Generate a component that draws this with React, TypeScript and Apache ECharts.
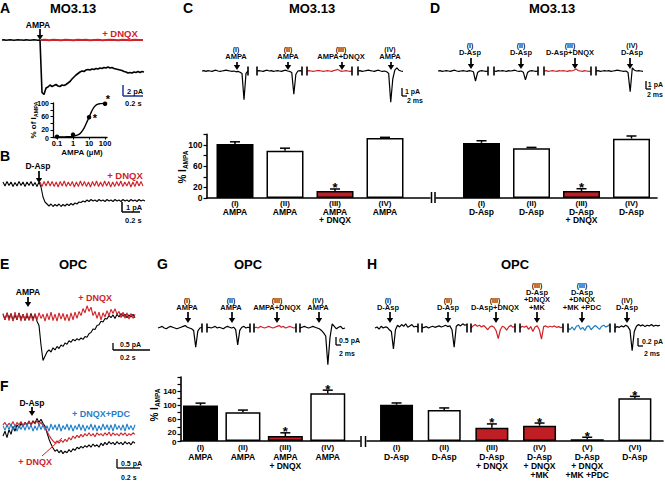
import React, { useEffect, useRef } from 'react';
import * as echarts from 'echarts';

// ================= DATA =================
// Panel A inset: dose-response (AMPA, µM -> % of I_AMPA)
const doseConcUM = [0.1, 1, 10, 100];
const doseRespPct = [1, 7, 58, 98];
const fitConcUM = [0.1, 0.3, 1, 2, 3, 5, 7, 10, 14, 20, 30, 50, 100];
const fitRespPct = [0, 0.5, 2, 6, 12, 27, 42, 58, 74, 87, 95, 98, 99];
const doseTickValues = [-1, 0, 1, 2];
const doseTickLabels = ['0.1', '1', '10', '100'];

// Panel A traces (pA)
const traceA_AMPA = [0, 0.05, -0.05, 0, 0.05, 0, -0.05, 0, 0.05, 0, 0, -0.05, 0.05, 0, -0.05, 0, 0.05, 0, -0.05, 0,
  -10.5, -10.9, -9.6, -9.4, -9.0, -9.3, -9.1, -8.9, -9.2, -9.3, -9.0, -9.1, -8.9, -8.6, -8.3, -7.8, -7.4, -7.0, -6.7, -6.4,
  -6.2, -6.3, -6.0, -5.9, -6.0, -5.8, -5.9, -5.7, -5.8, -5.6, -5.7, -5.5, -5.6, -5.4, -5.6, -5.5, -5.7, -5.8, -5.9, -6.0,
  -6.1, -6.3, -6.4, -6.6, -6.5, -6.6, -6.4, -6.5, -6.3, -6.5, -6.3, -6.4];
const traceA_DNQX = [0, 0.05, -0.05, 0.05, 0, -0.05, 0.05, 0, -0.05, 0.05, 0, 0.05, -0.05, 0, 0.05, -0.05, 0, 0.05, 0, -0.05, 0.05, 0, -0.05, 0.05, 0, 0];

// Panel B traces (pA)
const traceB_DAsp = [0.2, -0.2, 0.25, -0.15, 0.2, -0.25, 0.15, -0.2, 0.25, -0.15,
  0.2, -0.25, 0.2, -0.15, 0.25, -0.2, 0.15, -0.25, 0.2, -0.3,
  -1.3, -1.8, -2.0, -2.2, -2.0, -2.25, -2.05, -2.2, -2.0, -2.25,
  -2.05, -2.2, -2.0, -2.15, -1.95, -2.1, -1.9, -2.0, -1.8, -1.85,
  -1.7, -1.8, -1.6, -1.75, -1.55, -1.7, -1.6, -1.75, -1.55, -1.7,
  -1.6, -1.75, -1.55, -1.7, -1.6, -1.75, -1.55, -1.7, -1.6, -1.75,
  -1.55, -1.7, -1.6, -1.75, -1.55, -1.7, -1.6, -1.75, -1.55, -1.7, -1.6, -1.7];
const traceB_DNQX = [0.2, -0.25, 0.25, -0.2, 0.3, -0.2, 0.25, -0.25, 0.2, -0.3,
  0.25, -0.2, 0.3, -0.25, 0.2, -0.2, 0.25, -0.3, 0.2, -0.25,
  0.3, -0.2, 0.25, -0.25, 0.2, -0.3, 0.25, -0.2, 0.3, -0.25,
  0.2, -0.25, 0.3, -0.2, 0.25, -0.3, 0.2, -0.25, 0.25, -0.2,
  0.3, -0.25, 0.2, -0.2, 0.25, -0.3, 0.2, -0.25, 0.3, -0.2, 0.25, -0.2];

// Panel E traces (pA)
const traceE_AMPA = [0.2, -0.2, 0.3, -0.1, 0.25, -0.25, 0.15, -0.2, 0.3, -0.15,
  0.2, -0.25, 0.1, -0.2, 0.25, -0.15, 0.2, -0.3, -0.6, -2.0,
  -3.1, -2.8, -2.5, -2.35, -2.5, -2.2, -2.35, -2.1, -2.25, -2.0,
  -2.1, -1.85, -1.95, -1.7, -1.8, -1.6, -1.7, -1.55, -1.65, -1.5,
  -1.6, -1.4, -1.45, -1.2, -1.1, -0.85, -0.9, -0.6, -0.55, -0.3,
  -0.35, -0.1, -0.15, 0.1, -0.05, 0.15, -0.1, 0.2, 0.0, 0.25,
  0.05, 0.2, -0.05, 0.15, 0.0, 0.2, -0.05];
const traceE_DNQX = [0.25, -0.2, 0.3, -0.25, 0.2, -0.3, 0.35, -0.15, 0.25, -0.3,
  0.2, -0.2, 0.3, -0.25, 0.15, -0.3, 0.25, -0.2, 0.3, -0.1,
  0.2, -0.3, 0.25, -0.2, 0.35, -0.25, 0.2, -0.3, 0.3, -0.15,
  0.25, -0.25, 0.2, -0.3, 0.3, -0.2, 0.35, -0.1, 0.4, 0.1,
  0.6, 0.3, 0.8, 0.4, 0.7, 0.1, 0.4, -0.1, 0.35, -0.2,
  0.3, 0.0, 0.45, 0.1, 0.55, 0.25, 0.6, 0.2, 0.4, -0.05,
  0.35, -0.1, 0.3, -0.15, 0.25, -0.1, 0.2];

// Panel F traces (pA)
const traceF_DAsp = [-0.5, -0.2, -0.6, -0.1, -0.4, 0.1, -0.2, 0.2, 0.0, 0.3,
  0.1, 0.35, 0.15, 0.4, 0.2, 0.45, 0.3, 0.6, 0.35, 0.55,
  0.3, 0.1, -0.3, -0.7, -1.0, -1.25, -1.45, -1.35, -1.55, -1.4,
  -1.6, -1.45, -1.55, -1.35, -1.5, -1.3, -1.4, -1.2, -1.3, -1.15,
  -1.25, -1.1, -1.2, -1.05, -1.2, -1.0, -1.15, -1.05, -1.2, -0.95,
  -1.1, -0.9, -1.05, -0.85, -1.0, -0.9, -1.05, -0.85, -1.0, -0.9,
  -1.05, -0.85, -1.0, -0.9, -1.05, -0.85, -0.95];
const traceF_DNQX = [0.2, 0.35, 0.1, 0.3, 0.15, 0.4, 0.1, 0.35, 0.2, 0.4,
  0.15, 0.35, 0.2, 0.45, 0.15, 0.4, 0.25, 0.45, 0.2, 0.35,
  0.15, 0.05, -0.2, -0.45, -0.65, -0.8, -0.95, -0.8, -0.95, -0.75,
  -0.9, -0.7, -0.85, -0.6, -0.75, -0.5, -0.65, -0.45, -0.6, -0.4,
  -0.55, -0.35, -0.5, -0.3, -0.5, -0.35, -0.55, -0.3, -0.45, -0.35,
  -0.5, -0.3, -0.45, -0.25, -0.5, -0.3, -0.45, -0.35, -0.5, -0.3,
  -0.45, -0.3, -0.5, -0.35, -0.45, -0.3, -0.4];
const traceF_DNQX_PDC = [0.15, -0.15, 0.2, -0.1, 0.25, -0.15, 0.2, -0.2, 0.15, -0.1,
  0.2, -0.15, 0.25, -0.1, 0.2, -0.2, 0.15, -0.15, 0.25, -0.1,
  0.2, -0.15, 0.15, -0.2, 0.25, -0.1, 0.2, -0.15, 0.25, -0.2,
  0.15, -0.1, 0.25, -0.15, 0.2, -0.2, 0.15, -0.1, 0.25, -0.15,
  0.2, -0.2, 0.15, -0.1, 0.25, -0.15, 0.2, -0.2, 0.15, -0.15,
  0.25, -0.1, 0.2, -0.15, 0.2, -0.2, 0.25, -0.1, 0.15, -0.15,
  0.2, -0.2, 0.25, -0.1, 0.15, -0.15, 0.2];

// Panel C trace segments (pA)
const traceC_I = [0, 0.05, -0.05, 0.05, 0, -0.05, 0.05, 0.1, 0, -0.05, 0, 0.05, 0.1, 0.05, 0, -0.05, 0, -0.1, -0.05, -0.15, -0.3, -3.6, -0.3, 0];
const traceC_II = [0, 0.05, 0, -0.05, 0.05, 0.1, 0, 0.05, -0.05, 0, 0.05, 0, -0.05, 0.05, 0.1, 0, -0.05, -0.2, -2.9, -0.4, 0, 0.05, 0];
const traceC_III = [0, 0.05, 0, -0.05, 0, 0.05, 0.05, 0, -0.05, 0, 0.05, 0, -0.05, 0.05, 0.1, 0.2, 0.05, -0.05, 0, 0.05, 0, -0.05, 0];
const traceC_IV = [0, 0.05, -0.05, 0, 0.05, 0.1, 0.05, 0, -0.05, 0.05, 0.1, 0, -0.05, 0, -0.1, -0.3, -3.9, -1.0, 0.1, 0.4, 0.1, 0, -0.05];

// Panel D trace segments (pA)
const traceD_I = [0, 0.05, -0.05, 0, 0.05, 0, -0.05, 0.05, 0.1, 0, -0.05, 0, 0.05, 0, -0.05, 0.05, 0, -0.1, -1.25, -0.2, 0, 0.05, 0, -0.05, 0];
const traceD_II = [0, -0.05, 0.05, 0, 0.05, 0, -0.05, 0.05, 0, 0.05, 0.1, 0, -0.05, 0, -0.15, -1.1, -0.2, 0, 0.05, 0, -0.05, 0];
const traceD_III = [0, 0.05, -0.05, 0, 0.05, 0, -0.05, 0.05, 0, 0.05, 0, -0.05, 0.05, 0, 0.1, 0.25, 0.05, 0, -0.05, 0.05, 0, -0.05, 0];
const traceD_IV = [0, 0.05, -0.05, 0, 0.05, 0, 0.05, -0.05, 0, 0.05, 0.1, 0.05, 0, -0.05, 0, -0.2, -2.6, 0.4, 0.1, 0, 0.05, 0, -0.05];

// Panel G trace segments (pA)
const traceG_I = [0, 0.05, 0.1, 0, -0.05, 0.05, 0.1, 0.05, 0, -0.05, 0, 0.05, 0.1, 0.15, 0.05, 0, -0.05, -0.15, -1.2, -0.2, 0, 0.05];
const traceG_II = [0, 0.05, 0, 0.05, 0.1, 0, 0.05, 0, -0.05, 0.05, 0.1, 0.05, 0, 0.05, -0.1, -1.05, -0.15, 0.05, 0.1, 0, 0.05, 0];
const traceG_III = [0, 0.05, 0, 0.1, 0.05, 0, 0.05, 0.1, 0.05, 0, 0.05, 0.1, 0.15, 0.05, 0.1, 0, 0.05, 0.1, 0.05, 0, 0.05];
const traceG_IV = [0, 0.05, 0.1, 0.05, 0, 0.05, 0.1, 0.05, 0, -0.05, -0.15, -0.3, -0.5, -2.3, -0.6, 0.25, 0.1, -0.05, 0.05, 0.1, -0.05, 0];

// Panel H trace segments (pA)
const traceH_I = [0, 0.03, -0.03, 0.05, 0, 0.03, 0.02, -0.05, -0.1, -0.6, -0.05, 0.08, 0.03, 0.1, 0.05, 0.12, 0.02, 0.06, 0.1, 0.03, 0.05, 0.02];
const traceH_II = [0, 0.02, 0.04, 0, 0.03, 0.05, 0.02, 0.04, 0.06, 0.03, 0.05, 0.08, 0.04, 0.06, -0.05, -0.55, 0.05, 0.1, 0.06, 0.12, 0.08, 0.1];
const traceH_III = [0, 0.06, 0.1, 0.05, 0.08, 0.03, 0.07, 0.02, -0.05, 0.03, 0.06, 0.02, -0.08, -0.3, -0.05, 0.05, 0.02, -0.06, 0.03, 0.08, 0.02, 0.05];
const traceH_IV = [0, 0.05, 0.02, 0.06, -0.04, 0.04, -0.1, 0.03, 0.06, -0.05, -0.32, 0.04, 0.06, 0.02, 0.05, 0.03, 0.06, 0.02, 0.04, 0.01, 0.03];
const traceH_V = [0, -0.05, 0.03, -0.06, 0.05, 0.08, -0.04, 0.02, -0.07, 0.04, 0.06, -0.05, 0.02, 0.07, 0.02, -0.04, 0.05, 0.08, 0.03, 0.06, 0.1];
const traceH_VI = [0, 0.04, 0.02, 0.06, 0.03, 0.08, 0.04, -0.06, -0.65, -0.1, 0.05, 0.1, 0.06, 0.09, 0.04, 0.08, 0.06, 0.1, 0.05, 0.08, 0.06, 0.08];

// Bar charts: % I_AMPA
const barC_labels = [['(I)', 'AMPA'], ['(II)', 'AMPA'], ['(III)', 'AMPA', '+ DNQX'], ['(IV)', 'AMPA']];
const barC_values = [102, 89, 13, 113];
const barC_errors = [4, 5, 4, 1.5];
const barC_sig = [0, 0, 1, 0];

const barD_labels = [['(I)', 'D-Asp'], ['(II)', 'D-Asp'], ['(III)', 'D-Asp', '+ DNQX'], ['(IV)', 'D-Asp']];
const barD_values = [104, 94, 13, 112];
const barD_errors = [4, 1.5, 4.5, 5];
const barD_sig = [0, 0, 1, 0];

const barG_labels = [['(I)', 'AMPA'], ['(II)', 'AMPA'], ['(III)', 'AMPA', '+ DNQX'], ['(IV)', 'AMPA']];
const barG_values = [100, 81, 14, 134];
const barG_errors = [6.5, 6, 9, 9];
const barG_sig = [0, 0, 1, 1];

const barH_labels = [['(I)', 'D-Asp'], ['(II)', 'D-Asp'], ['(III)', 'D-Asp', '+ DNQX'], ['(IV)', 'D-Asp', '+ DNQX', '+MK'], ['(V)', 'D-Asp', '+ DNQX', '+MK +PDC'], ['(VI)', 'D-Asp']];
const barH_values = [102, 87, 37, 43, 5, 120];
const barH_errors = [5, 6, 11, 7.5, 5.5, 5.5];
const barH_sig = [0, 0, 1, 1, 1, 1];

const yTicksC = [0, 20, 60, 100];
const yTicksG = [0, 20, 60, 100, 140];
const yTicksInset = [0, 20, 60, 100];

// ================= STYLE =================
const FONT = "'Liberation Sans', Arial, Helvetica, sans-serif";
const K = '#000000';
const W = '#ffffff';
const RED = '#cf2229';
const RED_BAR = '#bf1e24';
const BLUE = '#1f7fc8';
const SCALE_BLUE = '#28449a';
const SMALL_OPACITY = 0.99; // small glyphs: grayscale anti-aliasing

const fillsC = [K, W, RED_BAR, W];
const fillsG = [K, W, RED_BAR, W];
const fillsH = [K, W, RED_BAR, RED_BAR, W, W];

function line(x1: number, y1: number, x2: number, y2: number, color: string, w: number) {
  return { type: 'line', z: 100, silent: true, shape: { x1, y1, x2, y2 }, style: { stroke: color, lineWidth: w } };
}

function buildOption() {
  const o: any = { animation: false, backgroundColor: '#fff', textStyle: { fontFamily: FONT }, grid: [], xAxis: [], yAxis: [], series: [] };
  const post: any[] = []; // y tick labels drawn through convertToPixel

  const addTrace = (values: number[], color: string, left: number, width: number, top: number, height: number, ymin: number, ymax: number, lw: number) => {
    const gi = o.grid.length;
    o.grid.push({ left, top, width, height, show: false });
    o.xAxis.push({ type: 'value', gridIndex: gi, min: 0, max: values.length - 1, show: false });
    o.yAxis.push({ type: 'value', gridIndex: gi, min: ymin, max: ymax, show: false });
    o.series.push({ type: 'line', xAxisIndex: gi, yAxisIndex: gi, data: values.map((v, i) => [i, v]), showSymbol: false, symbol: 'none', clip: false, silent: true, lineStyle: { color, width: lw }, z: 2 });
  };

  // Panel A
  addTrace(traceA_AMPA, K, 2, 142, 30, 70, -12, 2, 1.6);
  addTrace(traceA_DNQX, RED, 41, 102, 30, 70, -12, 2, 2);
  // Panel B
  addTrace(traceB_DAsp, K, 3, 142, 174, 40, -3, 1, 1.1);
  addTrace(traceB_DNQX, RED, 40, 103, 174, 40, -3, 1, 1.1);
  // Panel E
  addTrace(traceE_AMPA, K, 3, 132, 296, 70, -3.5, 1.5, 1.1);
  addTrace(traceE_DNQX, RED, 3, 132, 296, 70, -3.5, 1.5, 1.1);
  // Panel F
  addTrace(traceF_DAsp, K, 3, 132, 405, 55, -2, 1.4375, 1.1);
  addTrace(traceF_DNQX, RED, 3, 132, 405, 55, -2, 1.4375, 1.1);
  addTrace(traceF_DNQX_PDC, BLUE, 3, 132, 405, 55, -2, 1.4375, 1.1);

  // Segmented traces
  const segPanels = [
    { top: 59, height: 45, ymin: -4.125, ymax: 1.5, base: 71, segs: [
      { d: traceC_I, left: 202, width: 46, c: K }, { d: traceC_II, left: 257, width: 45, c: K },
      { d: traceC_III, left: 307, width: 45, c: RED }, { d: traceC_IV, left: 358, width: 45, c: K }] },
    { top: 59, height: 45, ymin: -4.125, ymax: 1.5, base: 71, segs: [
      { d: traceD_I, left: 438, width: 50, c: K }, { d: traceD_II, left: 494, width: 44, c: K },
      { d: traceD_III, left: 544, width: 47, c: RED }, { d: traceD_IV, left: 596, width: 47, c: K }] },
    { top: 318, height: 50, ymin: -2.5, ymax: 0.625, base: 328, segs: [
      { d: traceG_I, left: 158, width: 44, c: K }, { d: traceG_II, left: 207, width: 43, c: K },
      { d: traceG_III, left: 254, width: 42, c: RED }, { d: traceG_IV, left: 300, width: 45, c: K }] },
    { top: 318, height: 35, ymin: -0.714, ymax: 0.286, base: 328, segs: [
      { d: traceH_I, left: 375, width: 43, c: K }, { d: traceH_II, left: 422, width: 45, c: K },
      { d: traceH_III, left: 471, width: 44, c: RED }, { d: traceH_IV, left: 520, width: 43, c: RED },
      { d: traceH_V, left: 568, width: 42, c: BLUE }, { d: traceH_VI, left: 615, width: 45, c: K }] },
  ];
  const breakMarks: any[] = [];
  segPanels.forEach((p) => {
    p.segs.forEach((s, i) => {
      addTrace(s.d, s.c, s.left, s.width, p.top, p.height, p.ymin, p.ymax, 1.2);
      if (i > 0) breakMarks.push(line(s.left, p.base - 4.5, s.left, p.base + 4.5, K, 1.6));
      if (i < p.segs.length - 1) breakMarks.push(line(s.left + s.width, p.base - 4.5, s.left + s.width, p.base + 4.5, K, 1.6));
    });
  });

  // Inset dose-response (log10 scale)
  {
    const gi = o.grid.length;
    o.grid.push({ left: 53, top: 103, width: 54, height: 34, show: false });
    o.xAxis.push({ type: 'value', gridIndex: gi, min: -1.25, max: 2.12,
      axisLine: { show: true, onZero: false, lineStyle: { color: K, width: 1.3 } },
      axisTick: { show: true, length: 2.5, lineStyle: { color: K, width: 1 }, customValues: doseTickValues },
      axisLabel: { customValues: doseTickValues, hideOverlap: false, formatter: (v: number) => doseTickLabels[doseTickValues.indexOf(v)] || '', fontSize: 7.5, fontWeight: 'bold', color: K, margin: 2, fontFamily: FONT },
      splitLine: { show: false } });
    o.yAxis.push({ type: 'value', gridIndex: gi, min: 0, max: 100, interval: 20,
      axisLine: { show: true, onZero: false, lineStyle: { color: K, width: 1.3 } },
      axisTick: { show: true, length: 2.5, lineStyle: { color: K, width: 1 } },
      axisLabel: { show: false },
      splitLine: { show: false } });
    yTicksInset.forEach((v) => post.push({ gi, x: -1.25, y: v, text: String(v), size: 7, dx: -4, dy: v === 0 ? 1.2 : v === 20 ? -1 : 0 }));
    o.series.push({ type: 'line', xAxisIndex: gi, yAxisIndex: gi, data: fitConcUM.map((c, i) => [Math.log10(c), fitRespPct[i]]), smooth: 0.4, showSymbol: false, symbol: 'none', clip: false, lineStyle: { color: K, width: 1.4 }, z: 3 });
    o.series.push({ type: 'scatter', xAxisIndex: gi, yAxisIndex: gi, data: doseConcUM.map((c, i) => [Math.log10(c), doseRespPct[i]]), symbol: 'circle', symbolSize: 4.5, itemStyle: { color: '#000', opacity: 1 }, clip: false, z: 4 });
  }

  // Bar panels
  const addBars = (cfg: any) => {
    const gi = o.grid.length;
    o.grid.push({ left: cfg.left, top: cfg.top, width: cfg.width, height: cfg.height, show: false });
    const idx = cfg.labels.map((_: any, i: number) => i);
    const rich = {
      r: { fontSize: cfg.fs - 0.5, fontWeight: 'bold', lineHeight: cfg.lh, color: K, fontFamily: FONT },
      n: { fontSize: cfg.fs, fontWeight: 'bold', lineHeight: cfg.lh, color: K, fontFamily: FONT },
    };
    o.xAxis.push({ type: 'value', gridIndex: gi, min: cfg.xmin, max: cfg.xmax,
      axisLine: { show: true, onZero: false, lineStyle: { color: K, width: 1.6 } },
      axisTick: { show: false }, splitLine: { show: false },
      axisLabel: { customValues: idx, hideOverlap: false, margin: cfg.margin, rich, color: K,
        formatter: (v: number) => (cfg.labels[v] || []).map((l: string, k: number) => (k === 0 ? `{r|${l}}` : `{n|${l}}`)).join('\n') } });
    o.yAxis.push({ type: 'value', gridIndex: gi, min: 0, max: cfg.ymax, interval: 20, show: cfg.showY,
      axisLine: { show: true, onZero: false, lineStyle: { color: K, width: 1.6 } },
      axisTick: { show: true, length: 3.5, lineStyle: { color: K, width: 1.2 } },
      axisLabel: { show: false },
      splitLine: { show: false } });
    if (cfg.showY) cfg.yTicks.forEach((v: number) => post.push({ gi, x: cfg.xmin, y: v, text: String(v), size: cfg.yfs, dx: -4.5, dy: cfg.tight ? (v === 0 ? 1.6 : v === 20 ? -1.4 : 0) : 0 }));
    o.series.push({ type: 'bar', xAxisIndex: gi, yAxisIndex: gi, barWidth: cfg.barWidth, z: 3,
      data: cfg.values.map((v: number, i: number) => ({ value: [i, v], itemStyle: { color: cfg.fills[i], borderColor: K, borderWidth: 1.5 } })) });
    o.series.push({ type: 'custom', xAxisIndex: gi, yAxisIndex: gi, z: 4, clip: false,
      data: cfg.values.map((v: number, i: number) => [i, v, cfg.errors[i], cfg.sig[i]]),
      renderItem: (_p: any, api: any) => {
        const x = api.value(0), v = api.value(1), e = api.value(2), s = api.value(3);
        const p0 = api.coord([x, v]);
        const p1 = api.coord([x, v + e]);
        const ch: any[] = [
          { type: 'line', shape: { x1: p0[0], y1: p0[1], x2: p1[0], y2: p1[1] }, style: { stroke: K, lineWidth: 1.5 } },
          { type: 'line', shape: { x1: p1[0] - 5, y1: p1[1], x2: p1[0] + 5, y2: p1[1] }, style: { stroke: K, lineWidth: 1.5 } },
        ];
        if (s) ch.push({ type: 'text', x: p1[0], y: p1[1] - 1, style: { text: '*', fontSize: 13, fontWeight: 'bold', fontFamily: FONT, fill: K, align: 'center', verticalAlign: 'middle' } });
        return { type: 'group', children: ch };
      } });
  };

  addBars({ left: 207, top: 134.4, width: 223, height: 63.6, xmin: -0.56, xmax: 3.9, ymax: 120, showY: true, yTicks: yTicksC, yfs: 8.5, tight: false,
    labels: barC_labels, values: barC_values, errors: barC_errors, sig: barC_sig, fills: fillsC, barWidth: 37, lh: 8.5, fs: 8.5, margin: 1 });
  addBars({ left: 436, top: 134.4, width: 221, height: 63.6, xmin: -0.91, xmax: 3.51, ymax: 120, showY: false, yTicks: yTicksC, yfs: 8.5, tight: false,
    labels: barD_labels, values: barD_values, errors: barD_errors, sig: barD_sig, fills: fillsC, barWidth: 37, lh: 8.5, fs: 8.5, margin: 1 });
  addBars({ left: 181, top: 377, width: 179, height: 64, xmin: -0.46, xmax: 3.76, ymax: 180, showY: true, yTicks: yTicksG, yfs: 8, tight: true,
    labels: barG_labels, values: barG_values, errors: barG_errors, sig: barG_sig, fills: fillsG, barWidth: 35, lh: 9, fs: 8.5, margin: 2 });
  addBars({ left: 367, top: 377, width: 296, height: 64, xmin: -0.62, xmax: 5.59, ymax: 180, showY: false, yTicks: yTicksG, yfs: 8, tight: true,
    labels: barH_labels, values: barH_values, errors: barH_errors, sig: barH_sig, fills: fillsH, barWidth: 33, lh: 9, fs: 8.5, margin: 2 });

  // ---------- graphic annotations ----------
  const g: any[] = [];
  const T = (x: number, y: number, text: string, size: number, color = K, align = 'center', va = 'middle') =>
    g.push({ type: 'text', x, y, z: 100, silent: true, style: { text, fill: color, fontSize: size, fontWeight: 'bold', fontFamily: FONT, align, verticalAlign: va, opacity: size <= 8 ? SMALL_OPACITY : 1 } });
  const arrow = (x: number, y1: number, y2: number) => {
    g.push(line(x, y1, x, y2 - 3, K, 1.7));
    g.push({ type: 'polygon', z: 100, silent: true, shape: { points: [[x - 3.2, y2 - 5], [x + 3.2, y2 - 5], [x, y2]] }, style: { fill: K } });
  };
  const stack = (x: number, bottom: number, lines: string[]) =>
    g.push({ type: 'text', x, y: bottom, z: 100, silent: true, style: {
      text: lines.map((l, k) => (k === 0 ? `{r|${l}}` : `{n|${l}}`)).join('\n'), align: 'center', verticalAlign: 'bottom',
      fontFamily: FONT, fontWeight: 'bold', fill: K, opacity: SMALL_OPACITY,
      rich: {
        r: { fontSize: 7, lineHeight: 7, fontWeight: 'bold', fontFamily: FONT, fill: K },
        n: { fontSize: 7.5, lineHeight: 7.5, fontWeight: 'bold', fontFamily: FONT, fill: K } } } });
  const ytitle = (x: number, y: number, pre: string, size: number, sub: number) =>
    g.push({ type: 'text', x, y, rotation: Math.PI / 2, z: 100, silent: true, style: {
      text: `{a|${pre}}{s|AMPA}`, align: 'center', verticalAlign: 'middle', fill: K,
      rich: { a: { fontSize: size, fontWeight: 'bold', fontFamily: FONT, fill: K, lineHeight: size + 3 }, s: { fontSize: sub, fontWeight: 'bold', fontFamily: FONT, fill: K, verticalAlign: 'bottom', lineHeight: sub } } } });

  // panel letters & titles
  T(0, 8, 'A', 14, K, 'left'); T(0, 156, 'B', 14, K, 'left'); T(183, 8, 'C', 14, K, 'left'); T(430, 8, 'D', 14, K, 'left');
  T(0, 264, 'E', 14, K, 'left'); T(0, 386, 'F', 14, K, 'left'); T(157, 264, 'G', 14, K, 'left'); T(367, 264, 'H', 14, K, 'left');
  T(73, 8, 'MO3.13', 13); T(312, 8, 'MO3.13', 13); T(552, 8, 'MO3.13', 13);
  T(73, 264, 'OPC', 13); T(248, 264, 'OPC', 13); T(515, 264, 'OPC', 13);

  // Panel A
  T(38, 25, 'AMPA', 8.5); arrow(40, 29, 40); T(120, 33, '+ DNQX', 9.5, RED);
  g.push(line(123, 85, 123, 96, SCALE_BLUE, 1.6)); g.push(line(123, 96, 143, 96, SCALE_BLUE, 1.6));
  T(127, 91, '2 pA', 7.5, K, 'left'); T(125, 103, '0.2 s', 7.5, K, 'left');
  ytitle(33, 120, '% of I', 8, 5.5); T(82, 152, 'AMPA (µM)', 8);
  T(95, 118, '*', 11); T(108, 99, '*', 11);
  // Panel B
  T(38, 166, 'D-Asp', 8.5); arrow(39, 171, 183); T(125, 175, '+ DNQX', 9.5, RED);
  g.push(line(122, 202, 122, 212, K, 1.5)); g.push(line(122, 212, 140, 212, K, 1.5));
  T(126, 207, '1 pA', 7.5, K, 'left'); T(125, 220, '0.2 s', 7.5, K, 'left');
  // Panel E
  T(28, 292, 'AMPA', 8.5); arrow(28, 297, 307); T(95, 298, '+ DNQX', 9, RED);
  g.push(line(113, 343, 113, 350, K, 1.3)); g.push(line(113, 350, 150, 350, K, 1.3));
  T(120, 344, '0.5 pA', 7, K, 'left'); T(120, 357, '0.2 s', 7, K, 'left');
  // Panel F
  T(32, 403, 'D-Asp', 8.5); arrow(32, 407, 416); T(101, 414, '+ DNQX+PDC', 9, BLUE);
  T(35, 462, '+ DNQX', 9, RED); g.push(line(42, 456, 62, 438, RED, 1));
  g.push(line(117, 459, 117, 468, K, 1.3)); g.push(line(117, 468, 140, 468, K, 1.3));
  T(121, 463, '0.5 pA', 7, K, 'left'); T(121, 477, '0.2 s', 7, K, 'left');

  // Panel C trace labels
  [[236, 237, ['(I)', 'AMPA']], [288, 288, ['(II)', 'AMPA']], [341, 342, ['(III)', 'AMPA+DNQX']], [390, 391, ['(IV)', 'AMPA']]].forEach((a: any) => { stack(a[0], 60, a[2]); arrow(a[1], 62, 70); });
  g.push(line(402, 88, 402, 96, K, 1.3)); g.push(line(402, 96, 407, 96, K, 1.3));
  T(405, 91, '1 pA', 7, K, 'left'); T(407, 100, '2 ms', 7, K, 'left');
  // Panel D
  [[470, 471, ['(I)', 'D-Asp']], [521, 521, ['(II)', 'D-Asp']], [570, 575, ['(III)', 'D-Asp+DNQX']], [632, 630, ['(IV)', 'D-Asp']]].forEach((a: any) => { stack(a[0], 56, a[2]); arrow(a[1], 58, 69); });
  g.push(line(646, 81, 646, 89, K, 1.3)); g.push(line(646, 89, 651, 89, K, 1.3));
  T(663, 84, '1 pA', 7, K, 'right'); T(663, 94, '2 ms', 7, K, 'right');
  // Panel G
  [[187, 188, ['(I)', 'AMPA']], [231, 232, ['(II)', 'AMPA']], [277, 277, ['(III)', 'AMPA+DNQX']], [318, 319, ['(IV)', 'AMPA']]].forEach((a: any) => { stack(a[0], 311, a[2]); arrow(a[1], 312, 323); });
  g.push(line(336, 337, 336, 345, K, 1.3)); g.push(line(336, 345, 341, 345, K, 1.3));
  T(339, 340, '0.5 pA', 7, K, 'left'); T(339, 353, '2 ms', 7, K, 'left');
  // Panel H
  [[388, 390, ['(I)', 'D-Asp']], [448, 448, ['(II)', 'D-Asp']], [495, 496, ['(III)', 'D-Asp+DNQX']],
   [537, 537, ['(III)', 'D-Asp', '+DNQX', '+MK']], [582, 582, ['(III)', 'D-Asp', '+DNQX', '+MK +PDC']], [627, 627, ['(IV)', 'D-Asp']]]
    .forEach((a: any) => { stack(a[0], 311, a[2]); arrow(a[1], 312, 323); });
  g.push(line(638, 338, 638, 346, K, 1.3)); g.push(line(638, 346, 643, 346, K, 1.3));
  T(663, 341, '0.2 pA', 7, K, 'right'); T(660, 353, '2 ms', 7, K, 'right');

  // bar axis titles and axis breaks
  ytitle(182, 167, '% I', 10, 6.5);
  ytitle(154, 405, '% I', 10, 6.5);
  g.push(line(431.5, 192, 431.5, 203, K, 1.5)); g.push(line(435, 192, 435, 203, K, 1.5));
  g.push(line(361, 436, 361, 447, K, 1.5)); g.push(line(365.5, 436, 365.5, 447, K, 1.5));

  breakMarks.forEach((b) => g.push(b));
  return { option: o, graphics: g, post };
}

export default function App() {
  const ref = useRef<HTMLDivElement>(null);
  useEffect(() => {
    if (!ref.current) return;
    const chart = echarts.init(ref.current, undefined, { renderer: 'svg' });
    const { option, graphics, post } = buildOption();
    chart.setOption(option);
    // y-axis tick labels placed through the axes' own scales
    const extra = post.map((p: any) => {
      const px = chart.convertToPixel({ xAxisIndex: p.gi, yAxisIndex: p.gi } as any, [p.x, p.y]) as number[];
      return { type: 'text', x: px[0] + p.dx, y: px[1] + (p.dy || 0), z: 100, silent: true,
        style: { text: p.text, fill: K, fontSize: p.size, fontWeight: 'bold', fontFamily: FONT, align: 'right', verticalAlign: 'middle' } };
    });
    chart.setOption({ graphic: { elements: [...graphics, ...extra] } });
    return () => chart.dispose();
  }, []);
  return <div ref={ref} style={{ position: 'fixed', left: 0, top: 0, width: 665, height: 482, background: '#fff' }} />;
}
